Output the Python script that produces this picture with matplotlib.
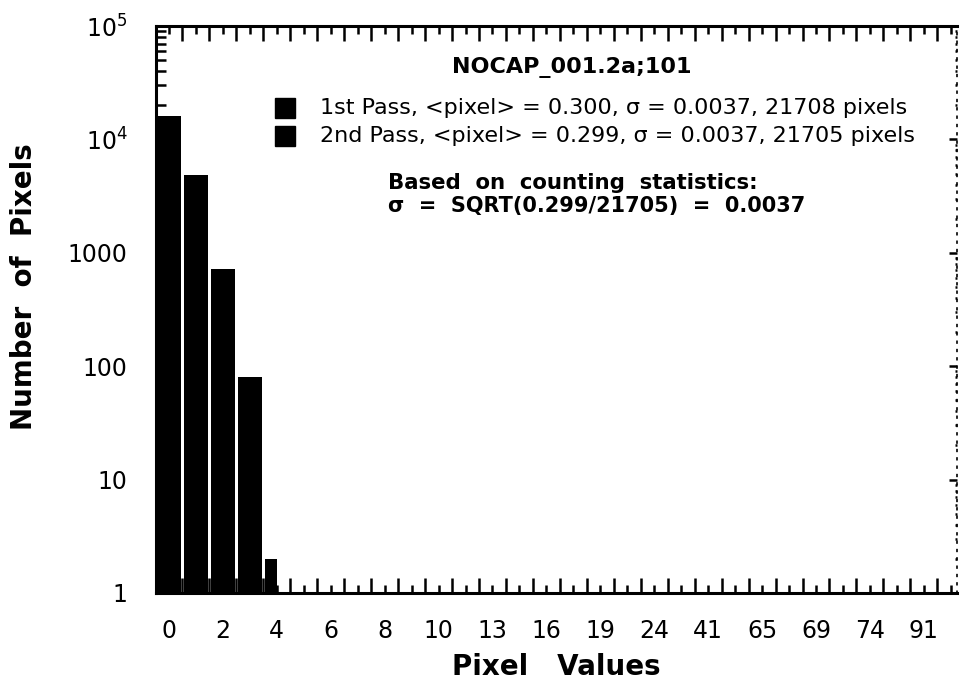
import numpy as np
import matplotlib
matplotlib.use("Agg")
import matplotlib.pyplot as plt
from matplotlib.ticker import FixedLocator, FixedFormatter, LogLocator, NullFormatter

# histogram of pixel values, two passes over the same frame
tick_labels = ["0", "2", "4", "6", "8", "10", "13", "16", "19", "24", "41", "65", "69", "74", "91"]
n_bins = 30
pass1_counts = [16071, 4830, 725, 80, 2]
pass2_counts = [16075, 4830, 720, 80, 0]

pass1_label = "1st Pass, <pixel> = 0.300, \u03c3 = 0.0037, 21708 pixels"
pass2_label = "2nd Pass, <pixel> = 0.299, \u03c3 = 0.0037, 21705 pixels"
title = "NOCAP_001.2a;101"
note1 = "Based  on  counting  statistics:"
note2 = "\u03c3  =  SQRT(0.299/21705)  =  0.0037"

W, H = 961, 689
fig = plt.figure(figsize=(W / 100, H / 100), dpi=100)
plt.rcParams['font.family'] = ['DejaVu Sans']

def fx(px):
    return px / W

def fy(py):
    return 1 - py / H

ax = fig.add_axes([fx(155.5), fy(593), fx(957) - fx(155.5), fy(26) - fy(593)])

x = np.arange(n_bins)
h1 = np.zeros(n_bins)
h2 = np.zeros(n_bins)
h1[:len(pass1_counts)] = pass1_counts
h2[:len(pass2_counts)] = pass2_counts

# 1st pass in the left half of each bin, 2nd pass in the right half
ax.bar(x - 0.22, h1, width=0.44, color="black", log=True)
ax.bar(x + 0.22, h2, width=0.44, color="black", log=True)

ax.set_yscale("log")
ax.set_ylim(1, 1e5)
ax.set_xlim(-0.5, 29.23)

# x: long ticks on bin edges, short ticks at bin centres carry the labels
ax.xaxis.set_major_locator(FixedLocator(np.arange(n_bins + 1) - 0.5))
ax.xaxis.set_major_formatter(NullFormatter())
ax.xaxis.set_minor_locator(FixedLocator(x))
minor_labels = [tick_labels[i // 2] if i % 2 == 0 and i // 2 < len(tick_labels) else "" for i in x]
ax.xaxis.set_minor_formatter(FixedFormatter(minor_labels))
ax.tick_params(axis="x", which="major", direction="in", length=11, width=1.8,
               top=True, bottom=True)
ax.tick_params(axis="x", which="minor", direction="in", length=5.5, width=1.8,
               top=True, bottom=True, labelsize=17, pad=19)

# y: log decades
ax.yaxis.set_minor_locator(LogLocator(base=10, subs=np.arange(2, 10), numticks=10))
ax.yaxis.set_minor_formatter(NullFormatter())
ax.set_yticks([1, 10, 100, 1000, 1e4, 1e5])
ax.set_yticklabels(["1", "10", "100", "1000", r"$\mathregular{10^4}$", r"$\mathregular{10^5}$"])
ax.tick_params(axis="y", which="major", direction="in", length=10, width=1.8,
               left=True, right=False, labelsize=17, pad=20)
ax.tick_params(axis="y", which="minor", direction="in", length=7, width=1.8,
               left=True, right=False)

for side in ["left", "top", "bottom"]:
    ax.spines[side].set_linewidth(2.2)
ax.spines["right"].set_visible(False)

# right side: faint dotted frame with small ticks
ax_r = ax.secondary_yaxis("right")
ax_r.set_yticks([1, 10, 100, 1000, 1e4, 1e5])
ax_r.yaxis.set_minor_locator(LogLocator(base=10, subs=np.arange(2, 10), numticks=10))
ax_r.yaxis.set_major_formatter(NullFormatter())
ax_r.yaxis.set_minor_formatter(NullFormatter())
ax_r.tick_params(which="major", direction="in", length=6, width=1.8)
ax_r.tick_params(which="minor", direction="in", length=1.5, width=1.8)
ax_r.spines["right"].set_linestyle((0, (1, 4)))
ax_r.spines["right"].set_linewidth(1.2)

ax.set_xlabel("Pixel   Values", fontsize=20, fontweight="bold", labelpad=7)
ax.set_ylabel("Number  of  Pixels", fontsize=20, fontweight="bold")
ax.yaxis.set_label_coords(-0.147, 0.54)

# annotation block
fig.text(fx(452), fy(68), title, fontsize=16, fontweight="bold", va="center", ha="left")
for py, lab in [(108, pass1_label), (136, pass2_label)]:
    fig.patches.append(plt.Rectangle((fx(275), fy(py + 10)), fx(20), fy(py - 10) - fy(py + 10),
                                     transform=fig.transFigure, color="black", figure=fig))
    fig.text(fx(320), fy(py), lab, fontsize=16, va="center", ha="left")
fig.text(fx(388), fy(183), note1, fontsize=15.3, fontweight="bold", va="center", ha="left")
fig.text(fx(388), fy(206), note2, fontsize=15, fontweight="bold", va="center", ha="left")

fig.savefig("out.png", dpi=100)
